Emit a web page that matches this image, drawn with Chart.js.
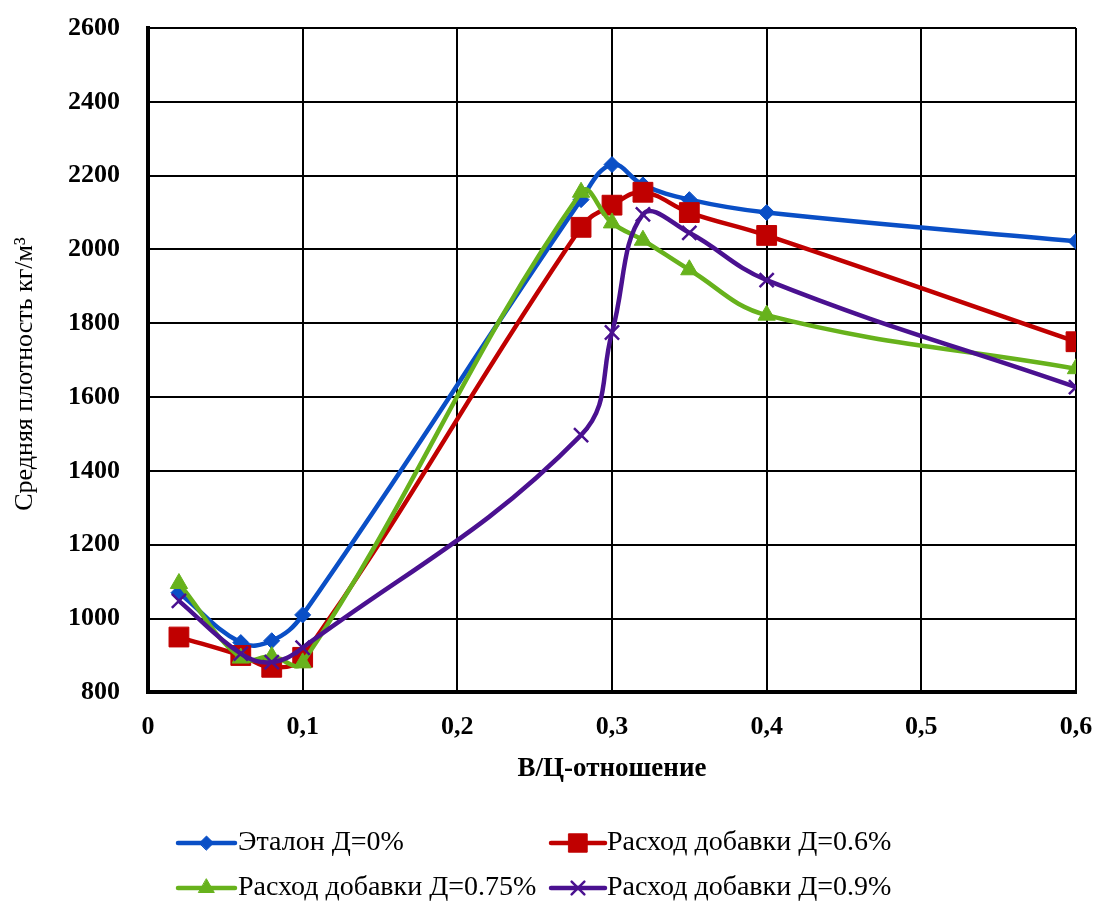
<!DOCTYPE html>
<html>
<head>
<meta charset="utf-8">
<script src="https://cdn.jsdelivr.net/npm/chart.js@4.4.1/dist/chart.umd.min.js"></script>
<style>
  html, body { margin: 0; padding: 0; background: #ffffff; }
  #wrap { position: relative; width: 1098px; height: 901px; }
</style>
</head>
<body>
<div id="wrap"><canvas id="c" width="1098" height="901"></canvas></div>
<script>
// ---- data ----
const xValues = [0.02, 0.06, 0.08, 0.1, 0.28, 0.3, 0.32, 0.35, 0.4, 0.6];
const seriesNames = ['Эталон Д=0%', 'Расход добавки Д=0.6%', 'Расход добавки Д=0.75%', 'Расход добавки Д=0.9%'];
const etalon = [1070, 935, 940, 1010, 2135, 2230, 2175, 2135, 2100, 2022];
const dose06 = [950, 900, 868, 895, 2060, 2120, 2155, 2100, 2038, 1750];
const dose075 = [1095, 893, 897, 880, 2155, 2072, 2025, 1945, 1822, 1677];
const dose09 = [1048, 905, 882, 921, 1497, 1775, 2095, 2045, 1917, 1627];
const xTitle = 'В/Ц-отношение';
const yTitle = 'Средняя плотность кг/м³';

// ---- styles ----
const SERIF = "'Liberation Serif', 'Times New Roman', serif";
const styles = [
  { color: '#0a4fc6', pointStyle: 'rectRot', radius: 8, legendRadius: 7 },
  { color: '#c00000', pointStyle: 'rect', radius: 14, legendRadius: 13 },
  { color: '#67b21c', pointStyle: 'triangle', radius: 10, legendRadius: 9 },
  { color: '#4a1190', pointStyle: 'crossRot', radius: 10, legendRadius: 9 }
];
const seriesValues = [etalon, dose06, dose075, dose09];

const datasets = seriesValues.map((vals, i) => ({
  label: seriesNames[i],
  data: xValues.map((x, j) => ({ x: x, y: vals[j] })),
  borderColor: styles[i].color,
  backgroundColor: styles[i].color,
  pointBackgroundColor: styles[i].color,
  pointBorderColor: styles[i].color,
  pointStyle: styles[i].pointStyle,
  pointRadius: styles[i].radius,
  pointHoverRadius: styles[i].radius,
  pointBorderWidth: styles[i].pointStyle === 'crossRot' ? 2.5 : 1,
  borderWidth: 4.5,
  tension: 0.4,
  fill: false,
  order: 3 - i
}));

const legendLayout = [
  { lineX0: 178, lineX1: 235, y: 843, textX: 238 },
  { lineX0: 551, lineX1: 605, y: 843, textX: 607 },
  { lineX0: 178, lineX1: 235, y: 888, textX: 238 },
  { lineX0: 551, lineX1: 605, y: 888, textX: 607 }
];

const customLegend = {
  id: 'customLegend',
  afterDraw(chart) {
    const ctx = chart.ctx;
    ctx.save();
    // rotated y-axis title
    ctx.translate(25, 374);
    ctx.rotate(-Math.PI / 2);
    ctx.fillStyle = '#000';
    ctx.font = '26px ' + SERIF;
    ctx.textAlign = 'center';
    ctx.textBaseline = 'middle';
    ctx.fillText(yTitle, 0, 0);
    ctx.restore();

    ctx.save();
    chart.data.datasets.forEach((ds, i) => {
      const L = legendLayout[i];
      const st = styles[i];
      ctx.strokeStyle = st.color;
      ctx.lineWidth = 4.5;
      ctx.lineCap = 'round';
      ctx.beginPath();
      ctx.moveTo(L.lineX0, L.y);
      ctx.lineTo(L.lineX1, L.y);
      ctx.stroke();
      ctx.fillStyle = st.color;
      ctx.strokeStyle = st.color;
      ctx.lineWidth = st.pointStyle === 'crossRot' ? 2.5 : 1;
      Chart.helpers.drawPoint(ctx, {
        pointStyle: st.pointStyle,
        radius: st.legendRadius,
        rotation: 0,
        borderWidth: ctx.lineWidth
      }, (L.lineX0 + L.lineX1) / 2, L.y);
      ctx.fillStyle = '#000';
      ctx.font = '28px ' + SERIF;
      ctx.textAlign = 'left';
      ctx.textBaseline = 'middle';
      ctx.fillText(ds.label, L.textX, L.y);
    });
    ctx.restore();
  }
};

new Chart(document.getElementById('c'), {
  type: 'line',
  data: { datasets: datasets },
  options: {
    responsive: false,
    animation: false,
    events: [],
    layout: { padding: { top: 28, right: 22, bottom: 116, left: 0 } },
    plugins: { legend: { display: false }, tooltip: { enabled: false } },
    scales: {
      x: {
        type: 'linear',
        min: 0, max: 0.6,
        afterFit(scale) { scale.paddingLeft = 0; scale.paddingRight = 0; },
        ticks: {
          stepSize: 0.1,
          color: '#000',
          padding: 19,
          font: { family: SERIF, size: 26, weight: 'bold' },
          callback: (v) => (Math.round(v * 10) / 10).toString().replace('.', ',')
        },
        grid: { color: '#000', lineWidth: 2, drawTicks: false },
        border: { color: '#000', width: 4 },
        title: {
          display: true, text: xTitle, color: '#000',
          font: { family: SERIF, size: 27, weight: 'bold' },
          padding: { top: -9, bottom: 0 }
        }
      },
      y: {
        min: 800, max: 2600,
        afterFit(scale) { scale.width = 148; scale.paddingTop = 0; scale.paddingBottom = 0; },
        ticks: {
          stepSize: 200,
          color: '#000',
          padding: 28,
          font: { family: SERIF, size: 26, weight: 'bold' },
          callback: (v) => String(v)
        },
        grid: { color: '#000', lineWidth: 2, drawTicks: false },
        border: { color: '#000', width: 4 },
        title: { display: false }
      }
    }
  },
  plugins: [customLegend]
});
</script>
</body>
</html>
